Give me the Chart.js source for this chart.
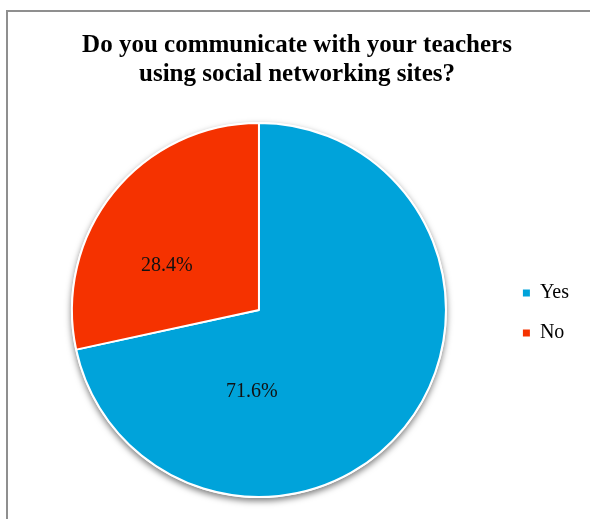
<!DOCTYPE html>
<html>
<head>
<meta charset="utf-8">
<script src="https://cdn.jsdelivr.net/npm/chart.js@4"></script>
<style>
  html, body { margin: 0; padding: 0; background: #fff; overflow: hidden; }
  #wrap { position: relative; width: 590px; height: 519px; overflow: hidden; }
  #frame {
    position: absolute; left: 6px; top: 10px; width: 700px; height: 700px;
    border-left: 2px solid #8f8f8f; border-top: 2px solid #8f8f8f;
  }
  #myChart { position: absolute; left: 0; top: 0; }
</style>
</head>
<body>
<div id="wrap">
  <div id="frame"></div>
  <canvas id="myChart" width="600" height="519"></canvas>
</div>
<script>
const categories = ['Yes', 'No'];
const shares = [71.6, 28.4];
const sliceColors = ['#00A3DA', '#F53200'];
const titleLines = ['Do you communicate with your teachers', 'using social networking sites?'];

// where each percentage sits: angle shift from the slice middle (deg) and fraction of the radius
const labelPlacement = [{ shift: 56, dist: 0.44 }, { shift: -13, dist: 0.548 }];

const serif = "'Times New Roman', 'Liberation Serif', serif";
Chart.defaults.font.family = serif;
Chart.defaults.color = '#000';

// soft drop shadow under the whole pie
const pieShadow = {
  id: 'pieShadow',
  beforeDatasetsDraw(chart) {
    const arc = chart.getDatasetMeta(0).data[0];
    if (!arc) return;
    const ctx = chart.ctx;
    ctx.save();
    ctx.shadowColor = 'rgba(0,0,0,0.5)';
    ctx.shadowBlur = 6;
    ctx.shadowOffsetY = 3;
    ctx.fillStyle = '#fff';
    ctx.beginPath();
    ctx.arc(arc.x, arc.y, arc.outerRadius + 1, 0, Math.PI * 2);
    ctx.fill();
    ctx.restore();
  }
};

// percentage text inside the slices
const sliceLabels = {
  id: 'sliceLabels',
  afterDatasetsDraw(chart) {
    const ctx = chart.ctx;
    const data = chart.data.datasets[0].data;
    const total = data.reduce((a, b) => a + b, 0);
    ctx.save();
    ctx.font = '20px ' + serif;
    ctx.fillStyle = '#111';
    ctx.textAlign = 'center';
    ctx.textBaseline = 'middle';
    chart.getDatasetMeta(0).data.forEach((arc, i) => {
      const p = labelPlacement[i];
      const mid = (arc.startAngle + arc.endAngle) / 2 + p.shift * Math.PI / 180;
      const r = arc.outerRadius * p.dist;
      const pct = (data[i] / total * 100).toFixed(1) + '%';
      ctx.fillText(pct, arc.x + Math.cos(mid) * r, arc.y + Math.sin(mid) * r);
    });
    ctx.restore();
  }
};

const ctx = document.getElementById('myChart');
const pieLegendLabels = Chart.controllers.pie.overrides.plugins.legend.labels.generateLabels;

new Chart(ctx, {
  type: 'pie',
  data: {
    labels: categories,
    datasets: [{
      data: shares,
      backgroundColor: sliceColors,
      borderColor: '#fff',
      borderWidth: 2
    }]
  },
  options: {
    responsive: false,
    animation: false,
    layout: { padding: { left: 15, right: 21, top: 0, bottom: 21 } },
    plugins: {
      title: {
        display: true,
        text: titleLines,
        color: '#000',
        font: { size: 25, weight: 'bold', lineHeight: 1.16 },
        padding: { top: 31.5, bottom: 32.5 }
      },
      legend: {
        position: 'right',
        // empty legend title only pushes the two entries down beside the pie
        title: {
          display: true,
          text: ' ',
          font: { size: 1, lineHeight: 1 },
          padding: { top: 0, bottom: 127 }
        },
        labels: {
          boxWidth: 7,
          boxHeight: 7,
          padding: 20,
          color: '#000',
          font: { size: 20 },
          // solid squares, without the white slice outline
          generateLabels(chart) {
            return pieLegendLabels(chart).map(item => ({ ...item, lineWidth: 0 }));
          }
        }
      },
      tooltip: { enabled: false }
    }
  },
  plugins: [pieShadow, sliceLabels]
});
</script>
</body>
</html>
